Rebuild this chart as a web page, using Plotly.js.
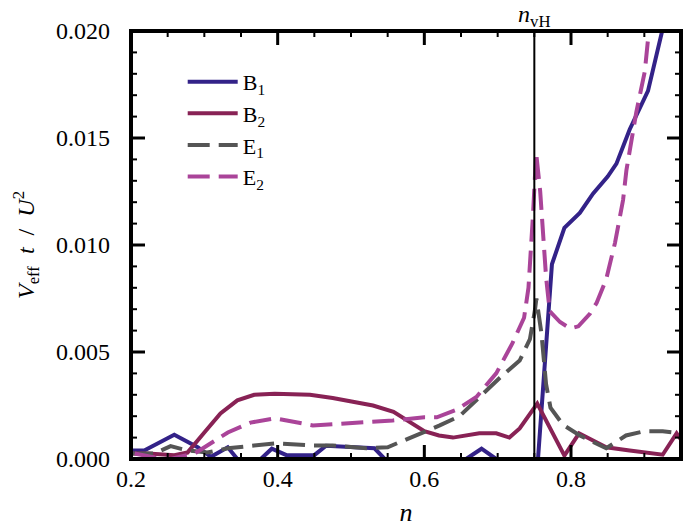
<!DOCTYPE html>
<html>
<head>
<meta charset="utf-8">
<script src="https://cdn.plot.ly/plotly-3.0.1.min.js"></script>
<style>html,body{margin:0;padding:0;background:#fff;} #chart{width:685px;height:532px;}</style>
</head>
<body>
<div id="chart"></div>
<script>
// ---- data ----
const seriesNames = ["B<sub>1</sub>", "B<sub>2</sub>", "E<sub>1</sub>", "E<sub>2</sub>"];

const nB1 = [0.2, 0.218, 0.259, 0.291, 0.309, 0.332, 0.345, 0.377, 0.392, 0.412, 0.450, 0.466, 0.532, 0.546, 0.657, 0.678, 0.698, 0.755, 0.774, 0.791, 0.812, 0.830, 0.850, 0.862, 0.880, 0.905, 0.925, 0.945];
const vB1 = [0.0004, 0.0004, 0.00113, 0.00055, 0.0001, 0.00055, 0, 0, 0.00048, 0.00018, 0.00018, 0.00062, 0.0005, 0, 0, 0.00048, 0, 0, 0.0091, 0.0108, 0.0115, 0.0124, 0.0132, 0.0138, 0.0154, 0.0172, 0.0201, 0.0232];

const nB2 = [0.2, 0.223, 0.259, 0.277, 0.3, 0.322, 0.345, 0.368, 0.396, 0.444, 0.475, 0.53, 0.558, 0.6, 0.62, 0.639, 0.675, 0.698, 0.716, 0.730, 0.754, 0.791, 0.811, 0.848, 0.88, 0.905, 0.925, 0.944, 0.95];
const vB2 = [0.00026, 0.00026, 0.00018, 0.0003, 0.00124, 0.00213, 0.00274, 0.003, 0.00305, 0.003, 0.00285, 0.0025, 0.0022, 0.0013, 0.0011, 0.001, 0.0012, 0.0012, 0.001, 0.00143, 0.00259, 0.00016, 0.0012, 0.00055, 0.0004, 0.0003, 0.0002, 0.0012, 0.0009];

const nE1 = [0.2, 0.232, 0.254, 0.277, 0.304, 0.332, 0.396, 0.448, 0.475, 0.521, 0.55, 0.6, 0.621, 0.648, 0.675, 0.703, 0.730, 0.744, 0.751, 0.7528, 0.7596, 0.766, 0.772, 0.789, 0.812, 0.848, 0.875, 0.9, 0.925, 0.95];
const vE1 = [0.00026, 0.00026, 0.0006, 0.0004, 0.0003, 0.0005, 0.00073, 0.00063, 0.00063, 0.0005, 0.00055, 0.00124, 0.00157, 0.002, 0.0029, 0.0038, 0.0046, 0.0056, 0.007, 0.0075, 0.0059, 0.0035, 0.0024, 0.0016, 0.0011, 0.0005, 0.0011, 0.0013, 0.0013, 0.0012];

const nE2 = [0.205, 0.232, 0.254, 0.287, 0.304, 0.332, 0.363, 0.396, 0.448, 0.498, 0.557, 0.6, 0.617, 0.644, 0.671, 0.698, 0.72, 0.736, 0.742, 0.748, 0.7525, 0.758, 0.766, 0.771, 0.785, 0.799, 0.81, 0.826, 0.835, 0.848, 0.86, 0.871, 0.8756, 0.889, 0.9006, 0.905, 0.915];
const vE2 = [0.00026, 0.00007, 0, 0.00026, 0.00063, 0.00124, 0.0017, 0.0019, 0.00157, 0.00166, 0.0018, 0.00195, 0.00195, 0.0023, 0.0029, 0.004, 0.0054, 0.0066, 0.008, 0.0113, 0.0143, 0.0125, 0.0085, 0.0069, 0.0064, 0.0061, 0.0062, 0.0068, 0.0073, 0.0084, 0.0101, 0.0121, 0.0135, 0.0162, 0.0181, 0.0196, 0.023];

const nVH = 0.75;
const xRange = [0.2, 0.95], yRange = [0, 0.02];
const xTick0 = 0.2, xDtick = 0.2, xMinorDtick = 0.05;
const yTick0 = 0, yDtick = 0.005, yMinorDtick = 0.001;

const colors = ["#332288", "#882255", "#555555", "#AA4499"];
const dashPat = "22px,9px";
const FONT = "Liberation Serif, Times New Roman, serif";

const traces = [
  {x: nB1, y: vB1, name: seriesNames[0], mode: "lines", line: {color: colors[0], width: 4}},
  {x: nB2, y: vB2, name: seriesNames[1], mode: "lines", line: {color: colors[1], width: 4}},
  {x: nE1, y: vE1, name: seriesNames[2], mode: "lines", line: {color: colors[2], width: 4, dash: dashPat}},
  {x: nE2, y: vE2, name: seriesNames[3], mode: "lines", line: {color: colors[3], width: 4, dash: dashPat}}
];

// tick positions along the axes (from tick0/dtick), drawn as pixel-sized shapes on the frame
function tickValues(start, step, end) {
  const out = [];
  for (let k = 0; ; k++) {
    const v = +(start + k * step).toFixed(6);
    if (v > end + 1e-9) break;
    out.push(v);
  }
  return out;
}
function isMajor(v, t0, dt) { const r = (v - t0) / dt; return Math.abs(r - Math.round(r)) < 1e-6; }

const tickShapes = [];
const MAJ = 14, MIN = 6;
tickValues(xTick0, xMinorDtick, xRange[1]).forEach(v => {
  const major = isMajor(v, xTick0, xDtick);
  const len = major ? MAJ : MIN, w = major ? 3 : 2;
  tickShapes.push({type: "line", xref: "x", yref: "paper", ysizemode: "pixel", yanchor: 0, x0: v, x1: v, y0: 0, y1: len, line: {color: "#000", width: w}});
  tickShapes.push({type: "line", xref: "x", yref: "paper", ysizemode: "pixel", yanchor: 1, x0: v, x1: v, y0: 0, y1: -len, line: {color: "#000", width: w}});
});
tickValues(yTick0, yMinorDtick, yRange[1]).forEach(v => {
  const major = isMajor(v, yTick0, yDtick);
  const len = major ? MAJ : MIN, w = major ? 3 : 2;
  tickShapes.push({type: "line", xref: "paper", yref: "y", xsizemode: "pixel", xanchor: 0, y0: v, y1: v, x0: 0, x1: len, line: {color: "#000", width: w}});
  tickShapes.push({type: "line", xref: "paper", yref: "y", xsizemode: "pixel", xanchor: 1, y0: v, y1: v, x0: 0, x1: -len, line: {color: "#000", width: w}});
});

const layout = {
  width: 685, height: 532,
  margin: {l: 131, r: 4, t: 31, b: 73},
  paper_bgcolor: "#fff", plot_bgcolor: "#fff",
  font: {family: FONT, size: 23, color: "#000"},
  showlegend: true,
  legend: {x: 0.094, y: 0.93, xanchor: "left", yanchor: "top", bgcolor: "rgba(0,0,0,0)",
           font: {family: FONT, size: 22, color: "#000"}, itemwidth: 50},
  xaxis: {
    range: xRange, tick0: xTick0, dtick: xDtick, tickformat: ".1f", ticklabelstandoff: 3,
    ticks: "", showline: false, showgrid: false, zeroline: false,
    tickfont: {family: FONT, size: 24, color: "#000"},
    title: {text: "<i>n</i>", font: {family: FONT, size: 26, color: "#000"}, standoff: 11}
  },
  yaxis: {
    range: yRange, tick0: yTick0, dtick: yDtick, tickformat: ".3f", ticklabelstandoff: 20,
    ticks: "", showline: false, showgrid: false, zeroline: false,
    tickfont: {family: FONT, size: 24, color: "#000"},
    title: {text: "<i>V</i><sub>eff</sub>  <i>t</i>  /  <i>U</i><sup>2</sup>", font: {family: FONT, size: 24, color: "#000"}, standoff: 14}
  },
  shapes: [
    {type: "line", xref: "x", yref: "paper", x0: nVH, x1: nVH, y0: 0, y1: 1, line: {color: "#000", width: 2}},
    {type: "rect", xref: "paper", yref: "paper", x0: 0, x1: 1, y0: 0, y1: 1, line: {color: "#000", width: 4}}
  ].concat(tickShapes),
  annotations: [
    {xref: "x", yref: "paper", x: nVH, y: 1, xanchor: "center", yanchor: "bottom", yshift: -2, showarrow: false,
     text: "<i>n</i><sub>vH</sub>", font: {family: FONT, size: 24, color: "#000"}}
  ]
};

Plotly.newPlot("chart", traces, layout, {displayModeBar: false});
</script>
</body>
</html>
